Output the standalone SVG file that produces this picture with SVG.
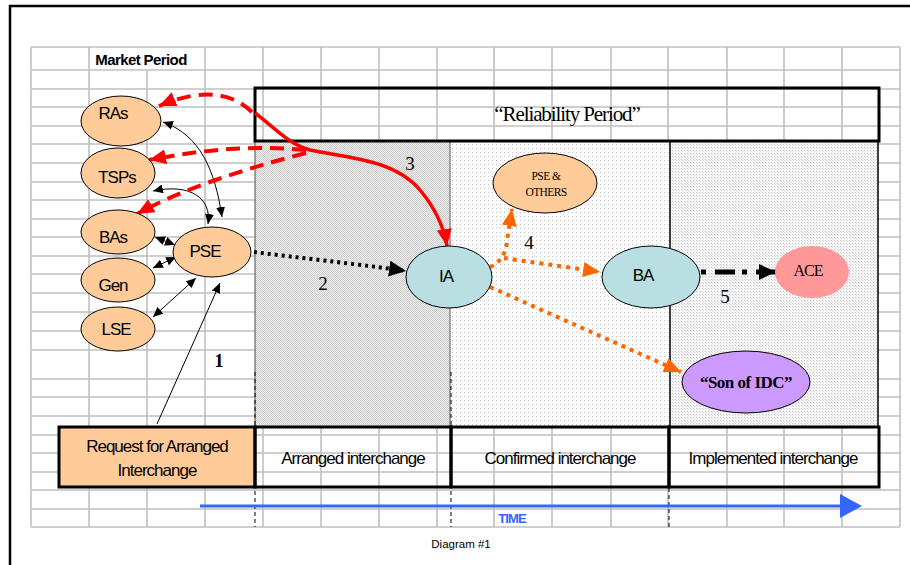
<svg xmlns="http://www.w3.org/2000/svg" width="910" height="565" viewBox="0 0 910 565">
<style>
.g{stroke:#c0c0c0;stroke-width:1.6;fill:none}
.sans{font-family:"Liberation Sans",Arial,sans-serif}
.serif{font-family:"Liberation Serif","Times New Roman",serif}
.nl{font-family:"Liberation Sans",Arial,sans-serif;font-size:17px;letter-spacing:-1px;text-anchor:middle;fill:#000}
.peach{fill:#ffcc99;stroke:#000;stroke-width:1}
.teal{fill:#b9dfe2;stroke:#000;stroke-width:1}
.box{fill:none;stroke:#000;stroke-width:3}
.thin{fill:none;stroke:#000;stroke-width:1}
.rd{fill:none;stroke:#ff0000;stroke-width:4;stroke-dasharray:14 8}
.or{fill:none;stroke:#ff6600;stroke-width:4;stroke-dasharray:4 5}
.num{font-family:"Liberation Serif","Times New Roman",serif;font-size:19px;fill:#000;text-anchor:middle}
</style>
<defs>
<marker id="ab" markerUnits="userSpaceOnUse" markerWidth="10" markerHeight="9" refX="10" refY="4.5" orient="auto-start-reverse"><path d="M0,0 L10,4.5 L0,9 z" fill="#000"/></marker>
<marker id="ar" markerUnits="userSpaceOnUse" markerWidth="17" markerHeight="15" refX="17" refY="7.5" orient="auto"><path d="M0,0 L17,7.5 L0,15 z" fill="#ff0000"/></marker>
<marker id="ao" markerUnits="userSpaceOnUse" markerWidth="17" markerHeight="15" refX="17" refY="7.5" orient="auto"><path d="M0,0 L17,7.5 L0,15 z" fill="#ff6600"/></marker>
<marker id="ak" markerUnits="userSpaceOnUse" markerWidth="17" markerHeight="16" refX="17" refY="8" orient="auto"><path d="M0,0 L17,8 L0,16 z" fill="#000"/></marker>
<pattern id="p1" width="2" height="2" patternUnits="userSpaceOnUse"><rect width="2" height="2" fill="#f0f0f0"/><rect width="1" height="1" fill="#cacaca"/><rect x="1" y="1" width="1" height="1" fill="#cacaca"/></pattern>
<pattern id="p2" width="4" height="4" patternUnits="userSpaceOnUse"><rect width="4" height="4" fill="#ffffff"/><rect width="1" height="1" fill="#c4c4c4"/></pattern>
<pattern id="p3" width="3" height="3" patternUnits="userSpaceOnUse"><rect width="3" height="3" fill="#f6f6f6"/><rect width="1" height="1" fill="#c8c8c8"/><rect x="1" y="1" width="1" height="1" fill="#dddddd"/></pattern>
</defs>
<rect width="910" height="565" fill="#fff"/>
<!-- frame -->
<path d="M10,570 L10,6 L915,6" fill="none" stroke="#000" stroke-width="2.5"/>
<!-- grid -->
<g id="grid" class="g">
<path d="M31,47H900M31,70H900M31,89H900M31,107H900M31,126H900M31,144H900M31,163H900M31,182H900M31,200H900M31,219H900M31,237H900M31,256H900M31,274H900M31,293H900M31,312H900M31,331H900M31,350H900M31,379H900M31,397H900M31,416H900M31,435H900M31,453H900M31,472H900M31,490H900M31,509H900M31,527H900"/>
<path d="M31,47V527M89,47V527M147,70V527M205,47V527M263,47V527M321,47V527M379,47V527M437,47V527M494,47V527M552,47V527M611,47V527M668,47V527M727,47V527M784,47V527M842,47V527M900,47V527"/>
</g>
<!-- shaded periods -->
<g id="shading">
<rect x="255" y="141" width="195" height="287" fill="url(#p1)"/>
<rect x="450" y="141" width="220" height="287" fill="url(#p2)"/>
<rect x="670" y="141" width="208" height="287" fill="url(#p3)"/>
<path d="M255,141V428" stroke="#666" stroke-width="1.2"/>
<path d="M450,141V428" stroke="#888" stroke-width="1.5"/>
<path d="M670,141V428" stroke="#000" stroke-width="1.5"/>
<path d="M878,141V428" stroke="#000" stroke-width="1.5"/>
</g>
<g id="dashed-dividers" fill="none" stroke="#000" stroke-width="1" stroke-dasharray="4 3">
<path d="M255,372V527M451,372V527M669,488V527"/>
</g>
<text class="sans" x="141" y="65" font-size="15" font-weight="bold" letter-spacing="-0.6" text-anchor="middle">Market Period</text>
<!-- reliability box -->
<g id="reliability">
<rect x="255" y="88" width="624" height="53" class="box"/>
<text class="serif" x="567" y="121" font-size="21" letter-spacing="-1.1" text-anchor="middle">“Reliability Period”</text>
</g>
<!-- bottom boxes -->
<g id="request">
<rect x="59" y="427" width="196" height="60" fill="#ffcc99" stroke="#000" stroke-width="3"/>
<text class="nl" x="157" y="452">Request for Arranged</text>
<text class="nl" x="157" y="476">Interchange</text>
</g>
<g id="arranged"><rect x="255" y="427" width="196" height="60" class="box"/><text class="nl" x="353" y="464">Arranged interchange</text></g>
<g id="confirmed"><rect x="451" y="427" width="218" height="60" class="box"/><text class="nl" x="560" y="464">Confirmed interchange</text></g>
<g id="implemented"><rect x="669" y="427" width="210" height="60" class="box"/><text class="nl" x="773" y="464">Implemented interchange</text></g>
<!-- time -->
<g id="time">
<path d="M200,506H845" stroke="#3366ff" stroke-width="3"/>
<polygon points="840,494 862,506 840,518" fill="#3366ff"/>
<text class="sans" x="512" y="523" font-size="13" font-weight="bold" letter-spacing="-0.9" fill="#3366ff" text-anchor="middle">TIME</text>
</g>
<text class="sans" x="461" y="548" font-size="11.5" text-anchor="middle">Diagram #1</text>
<!-- connectors -->
<g id="connectors">
<path class="thin" d="M163,122 C200,135 215,170 222,217" marker-start="url(#ab)" marker-end="url(#ab)"/>
<path class="thin" d="M153,191 C190,183 212,198 208,224" marker-start="url(#ab)" marker-end="url(#ab)"/>
<path class="thin" d="M155,237 L175,245" marker-start="url(#ab)" marker-end="url(#ab)"/>
<path class="thin" d="M153,268 L176,257" marker-start="url(#ab)" marker-end="url(#ab)"/>
<path class="thin" d="M153,317 L196,278" marker-start="url(#ab)" marker-end="url(#ab)"/>
<path class="thin" d="M157,424 L220,283" marker-end="url(#ab)"/>
<path class="rd" d="M252,112 C235,95 205,86 159,106" marker-end="url(#ar)"/>
<path class="rd" d="M306,150 C250,145 200,150 149,160" marker-end="url(#ar)"/>
<path class="rd" d="M306,153 C240,170 180,190 137,214" marker-end="url(#ar)"/>
<path d="M255,113 C275,128 290,145 310,150 C350,158 395,160 420,190 C435,208 444,228 447,246" fill="none" stroke="#ff0000" stroke-width="3.5" marker-end="url(#ar)"/>
<path d="M254,252 C300,258 350,263 406,271" fill="none" stroke="#000" stroke-width="4" stroke-dasharray="3 4" marker-end="url(#ak)"/>
<path class="or" d="M490,267 Q506,260 507,240 L512,209" marker-end="url(#ao)"/>
<path class="or" d="M504,258 C530,262 560,266 600,272" marker-end="url(#ao)"/>
<path class="or" d="M490,287 L681,372" marker-end="url(#ao)"/>
<path d="M701,272 L776,272" fill="none" stroke="#000" stroke-width="5" stroke-dasharray="5 9 20 7" marker-end="url(#ak)"/>
</g>
<g id="labels">
<text class="num" x="219" y="367" font-weight="bold">1</text>
<text class="num" x="323" y="290">2</text>
<text class="num" x="410" y="170">3</text>
<text class="num" x="529" y="249">4</text>
<text class="num" x="725" y="303">5</text>
</g>
<!-- nodes -->
<g id="RAs"><ellipse cx="121" cy="121" rx="40" ry="25" class="peach"/><text class="nl" x="113" y="119">RAs</text></g>
<g id="TSPs"><ellipse cx="118" cy="173" rx="37" ry="25" class="peach"/><text class="nl" x="117" y="183">TSPs</text></g>
<g id="BAs"><ellipse cx="118" cy="232" rx="37" ry="22" class="peach"/><text class="nl" x="113" y="243">BAs</text></g>
<g id="Gen"><ellipse cx="118" cy="280" rx="37" ry="22" class="peach"/><text class="nl" x="113" y="291">Gen</text></g>
<g id="LSE"><ellipse cx="118" cy="329" rx="37" ry="22" class="peach"/><text class="nl" x="116" y="335">LSE</text></g>
<g id="PSE"><ellipse cx="212" cy="252" rx="39" ry="25" class="peach"/><text class="nl" x="205" y="257">PSE</text></g>
<g id="IA"><ellipse cx="449" cy="277" rx="43" ry="31" class="teal"/><text class="nl" x="446" y="282">IA</text></g>
<g id="BA"><ellipse cx="651" cy="277" rx="49" ry="31" class="teal"/><text class="nl" x="643" y="281">BA</text></g>
<g id="ACE"><ellipse cx="812" cy="272" rx="37" ry="26" fill="#ff9999"/><text class="serif" x="808" y="276" font-size="16" letter-spacing="-1" text-anchor="middle">ACE</text></g>
<g id="PSE-OTHERS"><ellipse cx="545" cy="183" rx="52" ry="30" class="peach"/><text class="serif" x="546" y="180" font-size="11.5" letter-spacing="-0.5" text-anchor="middle">PSE &amp;</text><text class="serif" x="546" y="196" font-size="11.5" letter-spacing="-0.6" text-anchor="middle">OTHERS</text></g>
<g id="SonOfIDC"><ellipse cx="746" cy="382" rx="64" ry="31" fill="#cc99ff" stroke="#000" stroke-width="1"/><text class="serif" x="746" y="388" font-size="17" font-weight="bold" letter-spacing="-0.5" text-anchor="middle">“Son of IDC”</text></g>
</svg>
